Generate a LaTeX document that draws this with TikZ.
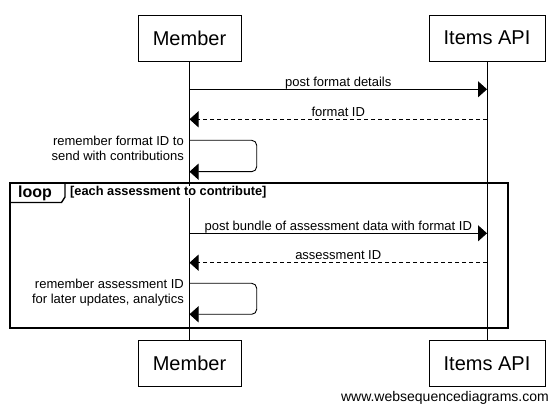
\documentclass[tikz,border=0pt]{standalone}
\usepackage{fontspec}
\setmainfont{Liberation Sans}
\usetikzlibrary{arrows.meta}
\tikzset{
  actor/.style={draw, fill=white, line width=0.9pt, minimum height=46pt, inner sep=0pt, font=\fontsize{20}{24}\selectfont},
  life/.style={line width=0.9pt},
  msg/.style={line width=0.9pt, -{Triangle[length=9pt,width=16pt]}},
  ret/.style={msg, dash pattern=on 4pt off 3pt},
  lbl/.style={inner sep=0pt, font=\fontsize{13}{15}\selectfont},
  frame/.style={line width=2pt},
}
\begin{document}
\begin{tikzpicture}[x=1pt,y=-1pt]
\useasboundingbox (0,0) rectangle (559,411);
% actors
\node[actor, minimum width=103pt] (mtop) at (189.5,38) {Member};
\node[actor, minimum width=116pt] (atop) at (487,38) {Items API};
\node[actor, minimum width=103pt] (mbot) at (189.5,363.5) {Member};
\node[actor, minimum width=116pt] (abot) at (487,363.5) {Items API};
% lifelines
\draw[life] (mtop.south) -- (mbot.north);
\draw[life] (atop.south) -- (abot.north);
% message points
\coordinate (m1) at (189.5,89.3);   \coordinate (a1) at (487,89.3);
\coordinate (m2) at (189.5,119.3);  \coordinate (a2) at (487,119.3);
\coordinate (s1a) at (189.5,140.3); \coordinate (s1b) at (189.5,171.7);
\coordinate (m3) at (189.5,233.3);  \coordinate (a3) at (487,233.3);
\coordinate (m4) at (189.5,262.7);  \coordinate (a4) at (487,262.7);
\coordinate (s2a) at (189.5,283.3); \coordinate (s2b) at (189.5,314.3);
% messages
\draw[msg] (m1) -- node[lbl, anchor=base, yshift=3pt] (l1) {post format details} (a1);
\draw[ret] (a2) -- node[lbl, anchor=base, yshift=3pt] (l2) {format ID} (m2);
\draw[msg, rounded corners=5pt] (s1a) -- (256.7,140.3) -- (256.7,171.7) -- (s1b);
\node[lbl, anchor=base east, align=right] (l3) at (184,161) {remember format ID to\\send with contributions};
% loop frame
\draw[frame] (10,183) rectangle (508,328);
\draw[line width=1.4pt] (10,183) -- (65,183) -- (65,197) -- (61.5,202.5) -- (10,202.5);
\node[inner sep=0pt, anchor=base west, font=\fontsize{16}{18}\selectfont\bfseries] (lp) at (18,197.5) {loop};
\node[inner sep=0pt, fill=white, anchor=base west, font=\fontsize{12.8}{15}\selectfont\bfseries] (guard) at (70,195.3) {[each assessment to contribute]};
\draw[msg] (m3) -- node[lbl, anchor=base, yshift=3pt] (l4) {post bundle of assessment data with format ID} (a3);
\draw[ret] (a4) -- node[lbl, anchor=base, yshift=3pt] (l5) {assessment ID} (m4);
\draw[msg, rounded corners=5pt] (s2a) -- (256.7,283.3) -- (256.7,314.3) -- (s2b);
\node[lbl, anchor=base east, align=right] (l6) at (184,303.5) {remember assessment ID\\for later updates, analytics};
% watermark
\node[inner sep=0pt, anchor=base east, font=\fontsize{14}{16}\selectfont] (wm) at (549,401.5) {www.websequencediagrams.com};
\end{tikzpicture}
\end{document}
